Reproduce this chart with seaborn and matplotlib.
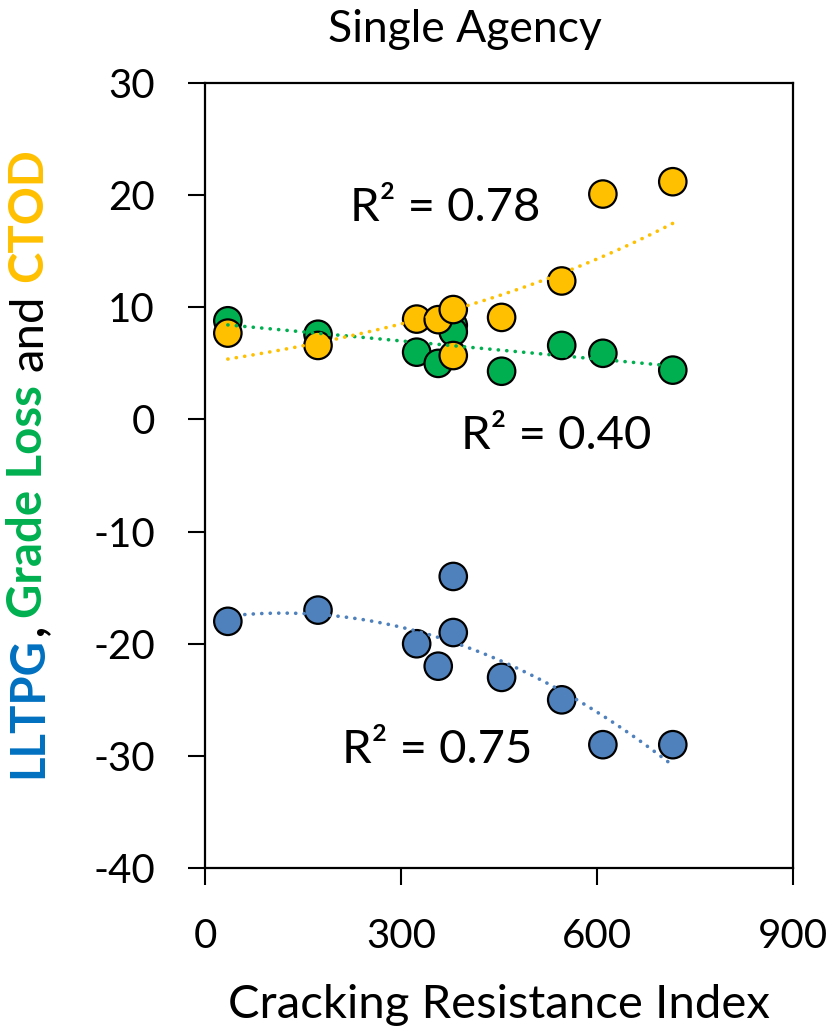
import numpy as np
import pandas as pd
import matplotlib
matplotlib.use('Agg')
import matplotlib.pyplot as plt
import seaborn as sns

# Values
cri = [35, 173, 324, 357, 380, 380, 454, 546, 609, 716]
lltpg = [-18, -17, -20, -22, -14, -19, -23, -25, -29, -29]
grade_loss = [8.8, 7.6, 6.0, 5.0, 8.4, 7.8, 4.3, 6.6, 5.9, 4.4]
ctod = [7.7, 6.6, 8.95, 8.9, 9.8, 5.7, 9.1, 12.35, 20.1, 21.2]

r2_labels = ['R² = 0.78', 'R² = 0.40', 'R² = 0.75']

blue, green, yellow = '#4F81BD', '#00B050', '#FFC000'

sns.set_style('white')
plt.rcParams['font.family'] = ['Lato', 'DejaVu Sans']
plt.rcParams['text.color'] = 'black'
plt.rcParams['axes.labelcolor'] = 'black'
plt.rcParams['axes.unicode_minus'] = False

df = pd.DataFrame({
    'CRI': cri * 3,
    'value': lltpg + grade_loss + ctod,
    'metric': ['LLTPG'] * 10 + ['Grade Loss'] * 10 + ['CTOD'] * 10,
})

fig = plt.figure(figsize=(8.38, 10.34), dpi=100)
ax = fig.add_axes([0.2446, 0.1605, 0.7017, 0.7592])

sns.scatterplot(data=df, x='CRI', y='value', hue='metric',
                palette={'LLTPG': blue, 'Grade Loss': green, 'CTOD': yellow},
                s=390, edgecolor='black', linewidth=1.6, legend=False, ax=ax, zorder=3)

# trend lines (Excel style)
x = np.array(cri, dtype=float)
xs = np.linspace(x.min(), x.max(), 200)
dot = dict(linestyle=(0, (0.05, 2.3)), dash_capstyle='round', linewidth=2.6, zorder=4)

p_blue = np.polyfit(x, lltpg, 2)
ax.plot(xs, np.polyval(p_blue, xs), color='#4F81BD', **dot)
p_green = np.polyfit(x, grade_loss, 1)
ax.plot(xs, np.polyval(p_green, xs), color=green, **dot)
p_yel = np.polyfit(x, np.log(ctod), 1)
ax.plot(xs, np.exp(np.polyval(p_yel, xs)), color=yellow, **dot)

ax.text(367, 18.9, r2_labels[0], fontsize=34, ha='center', va='center')
ax.text(537, -1.5, r2_labels[1], fontsize=34, ha='center', va='center')
ax.text(355, -29.5, r2_labels[2], fontsize=34, ha='center', va='center')

ax.set_xlim(0, 900)
ax.set_ylim(-40, 30)
ax.set_xticks([0, 300, 600, 900])
ax.set_yticks(range(-40, 31, 10))
ax.tick_params(axis='both', direction='out', length=12, width=1.5, labelsize=29,
               color='black', labelcolor='black', bottom=True, left=True)
ax.tick_params(axis='x', pad=24)
ax.tick_params(axis='y', pad=24)
for sp in ax.spines.values():
    sp.set_color('black')
    sp.set_linewidth(1.6)
ax.set_xlabel('Cracking Resistance Index', fontsize=34, labelpad=21)
ax.set_ylabel('')

fig.text(0.555, 0.971, 'Single Agency', fontsize=32, ha='center', va='center')

# multi-coloured y label, built bottom to top
pieces = [('LLTPG', '#0070C0', 'bold', 2), (',', 'black', 'bold', 6),
          ('Grade Loss', green, 'bold', 14), ('and', 'black', 'normal', 13),
          ('CTOD', yellow, 'bold', 0)]
renderer = fig.canvas.get_renderer()
ypos = 778
xpos = 42
for txt, col, wt, gap in pieces:
    t = fig.text(xpos / 838, 1 - ypos / 1034, txt, color=col, fontweight=wt, fontsize=34,
                 rotation=90, rotation_mode='anchor', ha='left', va='baseline')
    bb = t.get_window_extent(renderer=renderer)
    ypos -= bb.height + gap

fig.savefig('out.png', dpi=100)
